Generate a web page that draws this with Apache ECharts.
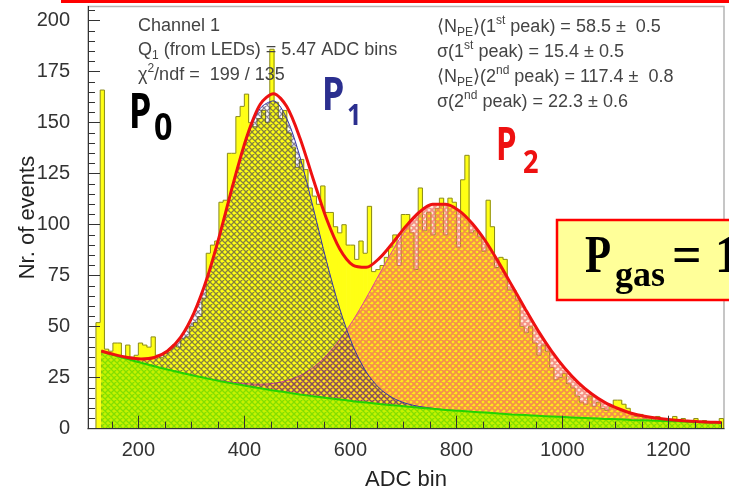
<!DOCTYPE html>
<html><head><meta charset="utf-8">
<script src="https://cdn.jsdelivr.net/npm/echarts@6/dist/echarts.min.js"></script>
<style>html,body{margin:0;padding:0;background:#fff}#c{width:729px;height:491px}</style>
</head><body><div id="c"></div>
<script>
// ---- data ----
const binStart = 120;
const binWidth = 8;
const counts = [
  52,166,39,38,42,42,35,41,35,36,
  42,41,40,45,36,35,37,39,41,40,
  44,45,50,52,55,64,86,90,92,111,
  112,135,135,153,158,164,150,148,152,156,
  150,186,160,152,156,145,138,128,132,127,
  118,114,110,119,106,106,99,96,100,90,
  90,83,92,86,109,77,78,80,84,89,
  95,80,105,105,96,78,118,97,106,95,
  108,113,95,113,111,89,122,134,96,97,
  94,87,112,99,79,84,83,68,68,63,
  50,47,50,42,36,41,38,30,24,25,
  27,22,20,16,13,12,16,11,13,10,
  9,11,14,14,12,10,7,6,7,5,
  6,4,6,5,3,4,6,3,5,4,
  3,5,3,4,3,2,3,5
];
const curveX = [130,155,180,205,230,255,280,305,330,355,380,405,430,455,480,505,530,555,580,605,630,655,680,705,730,755,780,805,830,855,880,905,930,955,980,1005,1030,1055,1080,1105,1130,1155,1180,1205,1230,1255,1280,1300];
const bgCurve = [38.0,36.0,34.1,32.3,30.6,29.0,27.4,26.0,24.6,23.3,22.1,20.9,19.8,18.7,17.8,16.8,15.9,15.1,14.3,13.5,12.8,12.1,11.5,10.9,10.3,9.8,9.2,8.8,8.3,7.9,7.4,7.0,6.7,6.3,6.0,5.7,5.4,5.1,4.8,4.6,4.3,4.1,3.9,3.7,3.5,3.3,3.1,3.0];
const peak1Curve = [38.1,36.3,34.9,34.2,34.9,38.1,44.9,56.7,74.0,96.2,120.5,142.3,157.0,160.7,152.1,133.2,108.2,82.1,58.8,40.5,27.8,19.8,15.1,12.4,10.9,10.0,9.2,8.8];
const peak2Curve = [38.0,36.0,34.1,32.3,30.6,29.0,27.4,26.1,24.7,23.6,22.7,22.0,21.8,22.2,23.6,26.0,30.0,35.9,43.6,53.1,64.1,75.9,87.5,97.8,105.5,109.8,110.0,106.9,100.6,92.0,81.4,70.1,58.7,47.7,37.9,29.5,22.6,17.1,12.9,9.9,7.6,6.1,5.1,4.4,3.9,3.5,3.2,3.0];
const totalCurve = [38.1,36.3,34.9,34.2,34.9,38.1,44.9,56.8,74.1,96.5,121.1,143.4,159.0,164.2,157.9,142.4,122.3,102.9,88.1,80.1,79.1,83.6,91.1,99.3,106.1,110.0,110.0,106.9,100.6,92.0,81.4,70.1,58.7,47.7,37.9,29.5,22.6,17.1,12.9,9.9,7.6,6.1,5.1,4.4,3.9,3.5,3.2,3.0];
const xTicks = [200,400,600,800,1000,1200];
const xMinorTicks = [150,250,300,350,450,500,550,650,700,750,850,900,950,1050,1100,1150,1250,1300];
const yTicks = [0,25,50,75,100,125,150,175,200];
const yMinorTicks = [5,10,15,20,30,35,40,45,55,60,65,70,80,85,90,95,105,110,115,120,130,135,140,145,155,160,165,170,180,185,190,195,205];

// ---- helpers ----
function hatch(bg, line, lw, size) {
  const c = document.createElement('canvas');
  c.width = c.height = size;
  const ctx = c.getContext('2d');
  if (bg) { ctx.fillStyle = bg; ctx.fillRect(0, 0, size, size); }
  ctx.strokeStyle = line; ctx.lineWidth = lw;
  ctx.beginPath();
  for (const o of [-size, 0, size]) {
    ctx.moveTo(o, 0); ctx.lineTo(o + size, size);
    ctx.moveTo(o + size, 0); ctx.lineTo(o, size);
  }
  ctx.stroke();
  return { image: c, repeat: 'repeat' };
}
const greenPat = hatch('rgb(198,242,0)', 'rgba(120,218,0,0.85)', 1.3, 6);
const bluePat = hatch(null, 'rgba(60,50,90,0.62)', 1.3, 6);
const pinkPat = hatch('rgba(255,140,60,0.2)', 'rgba(240,105,95,0.7)', 1.8, 6);

const pairs = (xs, ys) => ys.map((y, i) => [xs[i], y]);
const histData = counts.map((c, i) => [binStart + i * binWidth, c]);

const chart = echarts.init(document.getElementById('c'), null, { renderer: 'canvas' });
const txtFont = '"Liberation Sans", Arial, sans-serif';
const richStyles = {
  sub: { fontSize: 12, fontFamily: txtFont, verticalAlign: 'bottom', lineHeight: 12, fill: '#444' },
  sup: { fontSize: 12, fontFamily: txtFont, verticalAlign: 'top', lineHeight: 12, fill: '#444' }
};
function infoText(x, y, text) {
  return { type: 'text', x: x, y: y, z: 50,
    style: { text: text, fontSize: 18, fontFamily: txtFont, fill: '#444', verticalAlign: 'middle', lineHeight: 24, rich: richStyles } };
}
function bigText(x, y, text, size, color, family, sx) {
  return { type: 'text', x: x, y: y, scaleX: sx, z: 90,
    style: { text: text, fontSize: size, fontWeight: 'bold', fontFamily: family, fill: color, verticalAlign: 'middle', textAlign: 'left' } };
}
const sans = '"Noto Sans", "DejaVu Sans", sans-serif';
const serif = '"Liberation Serif", "DejaVu Serif", serif';
const plain = v => String(v);

const option = {
  animation: false,
  backgroundColor: '#fff',
  grid: { left: 88, right: 5, top: 6.4, bottom: 62.3, show: true, borderColor: '#b4b4b4', borderWidth: 1.5, backgroundColor: '#fff',
          containLabel: false, outerBoundsMode: 'none' },
  xAxis: [
    { type: 'value', min: 105, max: 1305, position: 'bottom', z: 10,
      name: 'ADC bin', nameLocation: 'middle', nameGap: 40, nameMoveOverlap: false,
      nameTextStyle: { fontSize: 22, color: '#222', fontFamily: txtFont },
      axisLine: { show: true, lineStyle: { color: '#333', width: 1 } },
      axisTick: { show: true, inside: true, length: 13, customValues: xTicks, lineStyle: { color: '#333' } },
      axisLabel: { customValues: xTicks, formatter: plain, fontSize: 20, color: '#333', margin: 12, fontFamily: txtFont },
      splitLine: { show: false } },
    { type: 'value', min: 105, max: 1305, position: 'bottom', z: 10,
      axisLine: { show: false }, axisLabel: { show: false }, splitLine: { show: false },
      axisTick: { show: true, inside: true, length: 7, customValues: xMinorTicks, lineStyle: { color: '#333' } } }
  ],
  yAxis: [
    { type: 'value', min: 0, max: 207, position: 'left', z: 10,
      name: 'Nr. of events', nameLocation: 'middle', nameGap: 49, nameRotate: 90, nameMoveOverlap: false,
      nameTextStyle: { fontSize: 22, color: '#222', fontFamily: txtFont },
      axisLine: { show: true, lineStyle: { color: '#333', width: 1 } },
      axisTick: { show: true, inside: true, length: 12, customValues: yTicks, lineStyle: { color: '#333' } },
      axisLabel: { customValues: yTicks, formatter: plain, fontSize: 20, color: '#333', margin: 18, fontFamily: txtFont },
      splitLine: { show: false } },
    { type: 'value', min: 0, max: 207, position: 'left', z: 10,
      axisLine: { show: false }, axisLabel: { show: false }, splitLine: { show: false },
      axisTick: { show: true, inside: true, length: 7, customValues: yMinorTicks, lineStyle: { color: '#333' } } }
  ],
  series: [
    { type: 'custom', name: 'data', z: 1, xAxisIndex: 0, yAxisIndex: 0,
      data: histData, encode: { x: 0, y: 1 },
      renderItem: function (params, api) {
        const i = params.dataIndex;
        const x0 = api.value(0), y = api.value(1);
        const x1 = x0 + binWidth;
        const prev = i > 0 ? counts[i - 1] : 0;
        const tl = api.coord([x0, y]);
        const br = api.coord([x1, 0]);
        const pp = api.coord([x0, prev]);
        const pts = [[tl[0], pp[1]], [tl[0], tl[1]], [br[0], tl[1]]];
        if (i === counts.length - 1) pts.push([br[0], br[1]]);
        return { type: 'group', children: [
          { type: 'rect', shape: { x: tl[0], y: tl[1], width: br[0] - tl[0] + 0.6, height: br[1] - tl[1] }, style: { fill: '#ffff14' } },
          { type: 'polyline', shape: { points: pts }, style: { stroke: '#8a8a1e', lineWidth: 1, fill: null } }
        ] };
      } },
    { type: 'line', name: 'peak2', z: 2, data: pairs(curveX, peak2Curve), smooth: 0.3, showSymbol: false,
      lineStyle: { color: '#e0409a', width: 1 }, areaStyle: { color: pinkPat, opacity: 1 } },
    { type: 'line', name: 'peak1', z: 3, data: pairs(curveX, peak1Curve), smooth: 0.3, showSymbol: false,
      lineStyle: { color: '#3434a8', width: 1 }, areaStyle: { color: bluePat, opacity: 1 } },
    { type: 'line', name: 'background', z: 4, data: pairs(curveX, bgCurve), smooth: 0.3, showSymbol: false,
      lineStyle: { color: '#22d400', width: 2 }, areaStyle: { color: greenPat, opacity: 1 } },
    { type: 'line', name: 'total', z: 6, data: pairs(curveX, totalCurve), smooth: 0.3, showSymbol: false,
      lineStyle: { color: '#ee1111', width: 3 } }
  ],
  graphic: [
    { type: 'rect', z: 100, shape: { x: 61, y: 0, width: 668, height: 3 }, style: { fill: '#ff0000' } },
    infoText(138, 26, 'Channel 1'),
    infoText(138, 50, 'Q{sub|1} (from LEDs) = 5.47 ADC bins'),
    infoText(138, 75, 'χ{sup|2}/ndf =  199 / 135'),
    infoText(437, 27, '⟨N{sub|PE}⟩(1{sup|st} peak) = 58.5 ±  0.5'),
    infoText(437, 52, 'σ(1{sup|st} peak) = 15.4 ± 0.5'),
    infoText(437, 77, '⟨N{sub|PE}⟩(2{sup|nd} peak) = 117.4 ±  0.8'),
    infoText(437, 102, 'σ(2{sup|nd} peak) = 22.3 ± 0.6'),
    bigText(129, 114.5, 'P', 48, '#000', sans, 0.75),
    bigText(154, 129, '0', 38, '#000', sans, 0.85),
    bigText(322, 96.5, 'P', 46, '#2b2f8f', sans, 0.78),
    bigText(347, 117, '1', 28, '#2b2f8f', sans, 0.9),
    bigText(496, 146.5, 'P', 46, '#ee1111', sans, 0.72),
    bigText(523, 163.5, '2', 32, '#ee1111', sans, 0.85),
    { type: 'rect', z: 70, shape: { x: 557, y: 220, width: 200, height: 80 }, style: { fill: '#ffff99', stroke: '#ff0000', lineWidth: 2.5 } },
    bigText(585, 259, 'P', 52, '#000', serif, 0.82),
    bigText(615, 277, 'gas', 36, '#000', serif, 1),
    bigText(672, 259, '= 1', 52, '#000', serif, 1)
  ]
};
chart.setOption(option);
</script>
</body></html>
